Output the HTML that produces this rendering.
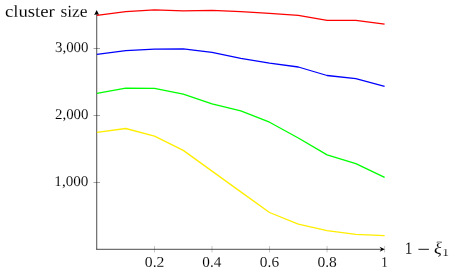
<!DOCTYPE html>
<html><head><meta charset="utf-8"><title>chart</title>
<style>
html,body{margin:0;padding:0;background:#fff;}
body{width:454px;height:272px;overflow:hidden;font-family:"Liberation Serif",serif;}
svg{display:block;will-change:transform;}
text{font-family:"Liberation Serif",serif;fill:#000;font-kerning:none;stroke:#fff;stroke-width:0.08px;}
</style></head><body>
<svg width="454" height="272" viewBox="0 0 454 272">
<rect width="454" height="272" fill="#fff"/>

<g stroke="#000" stroke-width="0.36" fill="none">
<line x1="154.52" y1="246.0" x2="154.52" y2="252.4" stroke-width="0.23"/>
<line x1="212.04" y1="246.0" x2="212.04" y2="252.4" stroke-width="0.23"/>
<line x1="269.56" y1="246.0" x2="269.56" y2="252.4" stroke-width="0.23"/>
<line x1="327.08" y1="246.0" x2="327.08" y2="252.4" stroke-width="0.23"/>
<line x1="384.60" y1="246.0" x2="384.60" y2="252.4" stroke-width="0.23"/>
<line x1="93.5" y1="48.5" x2="100.0" y2="48.5"/>
<line x1="93.5" y1="115.5" x2="100.0" y2="115.5"/>
<line x1="93.5" y1="182.5" x2="100.0" y2="182.5"/>
</g>
<g stroke="#000" stroke-width="0.7" fill="none">
<line x1="96.72" y1="249.60" x2="96.72" y2="13"/>
<line x1="96.42" y1="249.3" x2="382" y2="249.3"/>
</g>
<path d="M384.8 249.3 L379.6 246.8 L381.3 249.3 L379.6 251.8 Z" fill="#000"/>
<path d="M96.67 10.1 L94.17 15.1 L96.67 14.3 L99.17 15.1 Z" fill="#000"/>
<polyline points="96.90,15.35 125.76,11.60 154.52,9.90 183.28,10.80 212.04,10.30 240.80,11.60 269.56,13.30 298.32,15.30 327.08,20.40 355.84,20.40 384.60,24.10" fill="none" stroke="#ff0000" stroke-width="1.3" stroke-linejoin="round"/>
<polyline points="96.90,54.40 125.76,50.60 154.52,49.10 183.28,48.80 212.04,52.30 240.80,58.40 269.56,63.10 298.32,67.00 327.08,75.50 355.84,78.70 384.60,86.30" fill="none" stroke="#0000ff" stroke-width="1.3" stroke-linejoin="round"/>
<polyline points="96.90,93.40 125.76,88.10 154.52,88.40 183.28,94.10 212.04,103.80 240.80,110.90 269.56,122.20 298.32,138.00 327.08,154.90 355.84,163.70 384.60,177.30" fill="none" stroke="#00ff00" stroke-width="1.3" stroke-linejoin="round"/>
<polyline points="96.90,132.30 125.76,128.50 154.52,136.10 183.28,150.40 212.04,171.10 240.80,191.90 269.56,212.50 298.32,224.10 327.08,230.70 355.84,234.40 384.60,235.70" fill="none" stroke="#ffee00" stroke-width="1.3" stroke-linejoin="round"/>
<text transform="translate(4.89 16.75) scale(1.130 1) rotate(0.03)" font-size="16.60">cluster</text>
<text transform="translate(60.38 16.75) scale(1.055 1) rotate(0.03)" font-size="16.60">size</text>
<text transform="translate(54.99 52.05) scale(1.005 1) rotate(0.03)" font-size="14.80">3,000</text>
<text transform="translate(55.05 119.05) scale(1.004 1) rotate(0.03)" font-size="14.80">2,000</text>
<text transform="translate(54.37 186.05) scale(1.024 1) rotate(0.03)" font-size="14.80">1,000</text>
<text transform="translate(144.82 266.75) scale(1.070 1) rotate(0.03)" font-size="14.70">0.2</text>
<text transform="translate(202.36 266.75) scale(1.035 1) rotate(0.03)" font-size="14.70">0.4</text>
<text transform="translate(259.87 266.75) scale(1.047 1) rotate(0.03)" font-size="14.70">0.6</text>
<text transform="translate(317.39 266.75) scale(1.055 1) rotate(0.03)" font-size="14.70">0.8</text>
<text transform="translate(380.88 266.75) scale(0.962 1) rotate(0.03)" font-size="14.47">1</text>
<text transform="translate(404.85 253.80) scale(0.896 1) rotate(0.03)" font-size="17.12">1</text>
<text transform="translate(417.27 254.58) scale(1.319 1) rotate(0.03)" font-size="17.27">−</text>
<text transform="translate(433.97 253.66) scale(1.060 1) rotate(0.03)" font-size="17.26" font-style="italic">ξ</text>
<text transform="translate(442.23 256.30) scale(1.241 1) rotate(0.03)" font-size="10.76">1</text>
</svg></body></html>
